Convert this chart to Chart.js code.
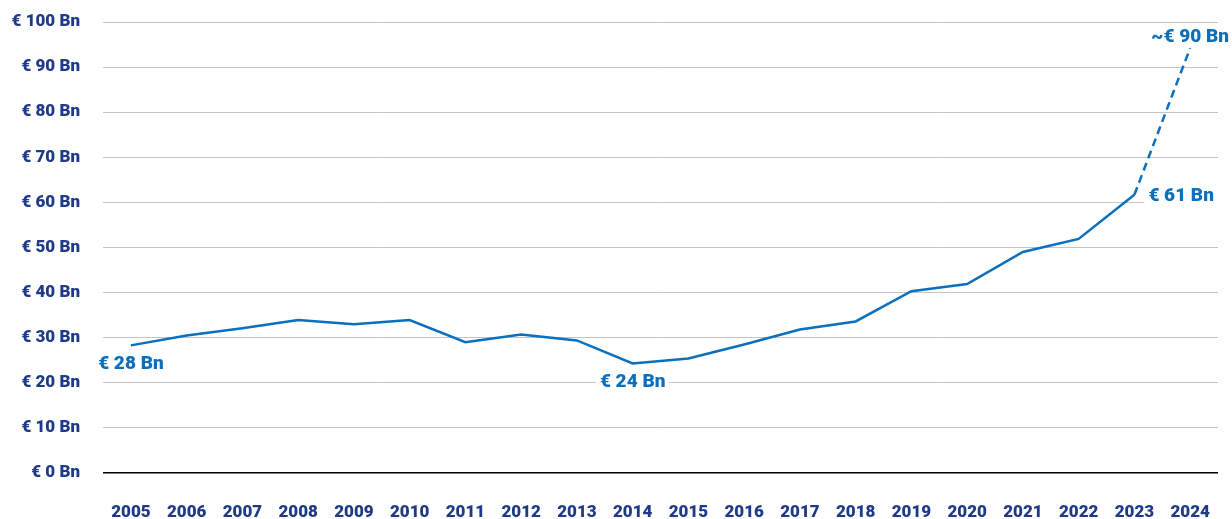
<!DOCTYPE HTML>
<html lang="EN">
<head>
<meta charset="utf-8">
<title>Chart</title>
<style>
  html, body { margin: 0; padding: 0; background: #fff; }
  #wrap { position: relative; width: 1232px; height: 519px; }
</style>
</head>
<body>
<div id="wrap"><canvas id="valChart"></canvas></div>
<script src="https://cdn.jsdelivr.net/npm/chart.js"></script>
<script>
const years = ['2005','2006','2007','2008','2009','2010','2011','2012','2013','2014',
               '2015','2016','2017','2018','2019','2020','2021','2022','2023','2024'];
const values = [28.3, 30.5, 32.1, 33.9, 33.0, 33.9, 29.0, 30.7, 29.4, 24.3,
                25.4, 28.5, 31.8, 33.6, 40.3, 41.9, 49.0, 51.9, 61.7, 94.2];
const yTicks = [0, 10, 20, 30, 40, 50, 60, 70, 80, 90, 100];
// callouts: index, text, placement
const callouts = [
  { i: 0,  text: '€ 28 Bn',  pos: 'below' },
  { i: 9,  text: '€ 24 Bn',  pos: 'below' },
  { i: 18, text: '€ 61 Bn',  pos: 'right' },
  { i: 19, text: '~€ 90 Bn', pos: 'above' }
];

const navy = '#1f3a88';
const blue = '#0a6fbd';
const fontFam = "Roboto, 'Noto Sans', sans-serif";

const calloutPlugin = {
  id: 'callouts',
  afterDatasetsDraw(chart) {
    const ctx = chart.ctx;
    const xs = chart.scales.x, ys = chart.scales.y;
    ctx.save();
    ctx.font = '900 19px ' + fontFam;
    ctx.textBaseline = 'middle';
    callouts.forEach(c => {
      const px = xs.getPixelForValue(c.i);
      const py = ys.getPixelForValue(values[c.i]);
      let tx = px, ty = py;
      const w = ctx.measureText(c.text).width;
      if (c.pos === 'below') { ty = py + 19; ctx.textAlign = 'center'; }
      if (c.pos === 'above') { ty = py - 11; ctx.textAlign = 'center'; }
      if (c.pos === 'right') { tx = px + 14; ty = py + 2; ctx.textAlign = 'left'; }
      // white backing so gridlines break behind text
      ctx.fillStyle = '#fff';
      const left = ctx.textAlign === 'center' ? tx - w / 2 : tx;
      ctx.fillRect(left - 4, ty - 10, w + 8, 20);
      ctx.fillStyle = blue;
      ctx.fillText(c.text, tx, ty);
    });
    ctx.restore();
  }
};

new Chart(document.getElementById('valChart'), {
  type: 'line',
  data: {
    labels: years,
    datasets: [{
      data: values,
      borderColor: blue,
      borderWidth: 2.5,
      pointRadius: 0,
      tension: 0,
      segment: {
        borderDash: ctx => ctx.p1DataIndex === years.length - 1 ? [8, 5] : undefined
      }
    }]
  },
  options: {
    responsive: true,
    maintainAspectRatio: false,
    animation: false,
    layout: { padding: { top: 22, right: 14, left: 0, bottom: 0 } },
    plugins: { legend: { display: false }, tooltip: { enabled: false } },
    scales: {
      x: {
        offset: true,
        afterFit: s => { s.height = 46; s.paddingLeft = 0; s.paddingRight = 0; },
        grid: { display: false, drawTicks: false },
        border: { display: false },
        ticks: {
          color: navy,
          padding: 30,
          maxRotation: 0,
          autoSkip: false,
          font: { family: fontFam, weight: '900', size: 17 }
        }
      },
      y: {
        min: 0,
        max: 100,
        afterFit: s => { s.width = 103; s.paddingTop = 0; s.paddingBottom = 0; },
        afterBuildTicks: s => { s.ticks = yTicks.map(v => ({ value: v })); },
        border: { display: false },
        grid: {
          drawTicks: false,
          color: c => c.tick && c.tick.value === 0 ? '#000' : '#c4c4c4',
          lineWidth: c => c.tick && c.tick.value === 0 ? 1.5 : 1
        },
        ticks: {
          color: navy,
          padding: 23,
          callback: v => '€ ' + v + ' Bn',
          font: { family: fontFam, weight: '900', size: 17 }
        }
      }
    }
  },
  plugins: [calloutPlugin]
});
</script>
</body>
</html>
